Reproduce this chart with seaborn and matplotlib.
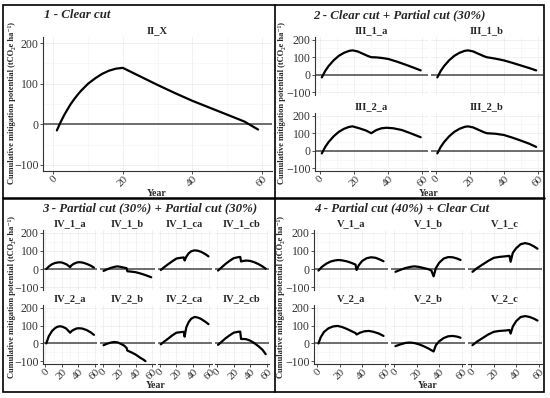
#!/usr/bin/env python3
"""Cumulative mitigation potential per harvest scenario, four framed panels."""
import matplotlib
matplotlib.use("Agg")
import matplotlib.pyplot as plt
from matplotlib.lines import Line2D
from matplotlib.patches import Rectangle
import pandas as pd
import seaborn as sns

# ---- data ------------------------------------------------------------------
ii_x_years = [1, 2, 3, 4, 5, 6, 7, 8, 10, 12, 14, 16, 18, 20, 25, 30, 35, 40, 45, 50, 55, 59]
ii_x_vals = [-15, 4, 21, 36, 50, 62, 73, 83, 100, 113, 124, 132, 137, 139, 118, 97, 77, 58, 41, 24, 7, -13]

rise_years = [1, 3, 5, 8, 11, 14, 17, 19]
rise_vals = [-15, 22, 50, 83, 108, 125, 136, 139]

iii_1_a_years = rise_years + [22, 25, 28, 30, 33, 36, 40, 45, 50, 55, 59]
iii_1_a_vals = rise_vals + [133, 120, 107, 100, 99, 96, 90, 75, 58, 40, 25]
iii_1_b_years = rise_years + [22, 25, 28, 30, 35, 40, 45, 50, 55, 59]
iii_1_b_vals = rise_vals + [133, 120, 107, 100, 92, 82, 68, 53, 38, 25]
iii_2_a_years = rise_years + [23, 27, 30, 33, 36, 39, 43, 48, 53, 59]
iii_2_a_vals = rise_vals + [128, 115, 100, 118, 128, 131, 128, 118, 100, 77]
iii_2_b_years = rise_years + [22, 25, 28, 30, 35, 40, 45, 50, 55, 59]
iii_2_b_vals = rise_vals + [133, 120, 107, 100, 97, 90, 75, 58, 40, 22]

iv_1_a_years = [1, 4, 8, 12, 16, 19, 22, 26, 29, 30, 31, 34, 38, 41, 45, 50, 55, 59]
iv_1_a_vals = [0, 14, 27, 34, 37, 37, 33, 25, 14, 10, 18, 28, 36, 38, 36, 29, 19, 8]
iv_1_b_years = [1, 5, 10, 15, 18, 22, 26, 29, 30, 35, 40, 45, 50, 55, 59]
iv_1_b_vals = [-10, -2, 7, 13, 15, 12, 8, 5, -12, -14, -17, -23, -30, -38, -45]
iv_1_ca_years = [1, 5, 10, 15, 20, 25, 29, 30, 32, 35, 38, 42, 46, 50, 55, 59]
iv_1_ca_vals = [-5, 10, 27, 43, 58, 62, 64, 47, 68, 87, 98, 103, 101, 95, 83, 70]
iv_1_cb_years = [1, 5, 10, 15, 20, 25, 28, 29, 32, 35, 40, 45, 50, 55, 59]
iv_1_cb_vals = [-8, 8, 28, 45, 60, 65, 67, 42, 45, 47, 45, 38, 28, 15, 2]
iv_2_a_years = [1, 4, 8, 12, 15, 18, 21, 25, 28, 30, 32, 35, 38, 41, 45, 50, 55, 59]
iv_2_a_vals = [0, 40, 70, 87, 94, 96, 93, 84, 70, 60, 70, 78, 84, 85, 83, 75, 62, 48]
iv_2_b_years = [1, 5, 10, 14, 18, 22, 26, 29, 30, 35, 40, 45, 50, 52]
iv_2_b_vals = [-10, -2, 5, 8, 6, -2, -12, -25, -40, -50, -62, -78, -92, -99]
iv_2_ca_years = [1, 5, 10, 15, 20, 25, 29, 30, 32, 35, 38, 42, 46, 50, 55, 59]
iv_2_ca_vals = [-5, 10, 27, 45, 60, 63, 65, 38, 90, 120, 138, 148, 145, 137, 122, 108]
iv_2_cb_years = [1, 5, 10, 15, 20, 25, 28, 29, 32, 35, 40, 45, 50, 55, 59]
iv_2_cb_vals = [-8, 8, 28, 45, 60, 65, 66, 25, 25, 24, 16, 2, -15, -35, -60]

v_1_a_years = [1, 4, 8, 12, 16, 19, 22, 26, 30, 34, 35, 37, 40, 44, 48, 52, 56, 59]
v_1_a_vals = [-8, 12, 30, 42, 48, 50, 48, 43, 35, 25, -5, 22, 45, 60, 65, 62, 52, 43]
v_1_b_years = [1, 5, 10, 15, 18, 22, 26, 30, 33, 35, 37, 40, 44, 48, 52, 56, 59]
v_1_b_vals = [-15, -5, 6, 13, 15, 12, 6, 0, -8, -40, 5, 35, 58, 66, 65, 58, 50]
v_1_c_years = [1, 5, 10, 15, 20, 25, 30, 34, 35, 37, 40, 44, 48, 52, 56, 59]
v_1_c_vals = [-15, 5, 25, 45, 62, 67, 70, 73, 40, 90, 115, 137, 143, 137, 124, 112]
v_2_a_years = [1, 3, 6, 10, 14, 18, 22, 26, 30, 34, 35, 38, 42, 46, 50, 55, 59]
v_2_a_vals = [0, 35, 65, 85, 95, 98, 92, 82, 70, 58, 50, 60, 68, 70, 65, 55, 42]
v_2_b_years = [1, 5, 10, 14, 18, 22, 26, 30, 35, 37, 40, 44, 48, 52, 56, 59]
v_2_b_vals = [-15, -6, 3, 5, 2, -5, -15, -27, -45, -10, 12, 30, 40, 42, 38, 32]
v_2_c_years = [1, 5, 10, 15, 20, 25, 30, 34, 35, 37, 40, 44, 48, 52, 56, 59]
v_2_c_vals = [-10, 10, 30, 50, 65, 70, 72, 75, 55, 95, 125, 148, 153, 148, 138, 128]

panel_titles = ["1 - Clear cut", "2 - Clear cut + Partial cut (30%)",
                "3 - Partial cut (30%) + Partial cut (30%)",
                "4 - Partial cut (40%) + Clear Cut"]

panel1 = [("II_X", ii_x_years, ii_x_vals)]
panel2 = [("III_1_a", iii_1_a_years, iii_1_a_vals), ("III_1_b", iii_1_b_years, iii_1_b_vals),
          ("III_2_a", iii_2_a_years, iii_2_a_vals), ("III_2_b", iii_2_b_years, iii_2_b_vals)]
panel3 = [("IV_1_a", iv_1_a_years, iv_1_a_vals), ("IV_1_b", iv_1_b_years, iv_1_b_vals),
          ("IV_1_ca", iv_1_ca_years, iv_1_ca_vals), ("IV_1_cb", iv_1_cb_years, iv_1_cb_vals),
          ("IV_2_a", iv_2_a_years, iv_2_a_vals), ("IV_2_b", iv_2_b_years, iv_2_b_vals),
          ("IV_2_ca", iv_2_ca_years, iv_2_ca_vals), ("IV_2_cb", iv_2_cb_years, iv_2_cb_vals)]
panel4 = [("V_1_a", v_1_a_years, v_1_a_vals), ("V_1_b", v_1_b_years, v_1_b_vals),
          ("V_1_c", v_1_c_years, v_1_c_vals), ("V_2_a", v_2_a_years, v_2_a_vals),
          ("V_2_b", v_2_b_years, v_2_b_vals), ("V_2_c", v_2_c_years, v_2_c_vals)]

x_ticks = [0, 20, 40, 60]
y_ticks = [-100, 0, 100, 200]
y_label = "Cumulative mitigation potential (tCO\u2082e ha\u207b\u00b9)"

# ---- style -------------------------------------------------------------------
sns.set_theme(style="white")
SERIF = ["Liberation Serif", "DejaVu Serif"]
plt.rcParams["font.family"] = SERIF

W, H = 550, 398
fig = plt.figure(figsize=(W / 100, H / 100), dpi=100)


def px_axes(left, top, right, bottom):
    return fig.add_axes([left / W, 1 - bottom / H, (right - left) / W, (bottom - top) / H])


def fig_text(x, y, s, **kw):
    fig.text(x / W, 1 - y / H, s, **kw)


def draw_facet(ax, name, years, vals, show_x, show_y):
    df = pd.DataFrame({"year": years, "value": vals})
    ax.set_xlim(-3, 63)
    ax.set_ylim(-115, 215)
    ax.set_xticks(x_ticks)
    ax.set_xticks([10, 30, 50], minor=True)
    ax.set_yticks(y_ticks)
    ax.set_yticks([-50, 50, 150], minor=True)
    ax.grid(True, which="major", color="#ebebeb", lw=0.5)
    ax.grid(True, which="minor", color="#f4f4f4", lw=0.4)
    ax.axhline(0, color="#555555", lw=1.2, zorder=2)
    sns.lineplot(data=df, x="year", y="value", ax=ax, color="black", lw=1.6,
                 estimator=None, sort=False, zorder=3)
    ax.set_xlabel("")
    ax.set_ylabel("")
    ax.set_title(name, fontsize=7.5, fontweight="bold", pad=2.5, family=SERIF)
    for side in ["top", "right", "left", "bottom"]:
        ax.spines[side].set_visible(False)
    ax.spines["left"].set_visible(show_y)
    ax.spines["bottom"].set_visible(show_x)
    for side in ["left", "bottom"]:
        ax.spines[side].set_color("#333333")
        ax.spines[side].set_linewidth(0.8)
    ax.tick_params(which="minor", length=0)
    ax.tick_params(axis="x", length=2 if show_x else 0, width=0.6, color="#333333",
                   labelbottom=show_x, labelsize=8, labelcolor="#333333", pad=0.5,
                   direction="out", bottom=show_x)
    ax.tick_params(axis="y", length=2 if show_y else 0, width=0.6, color="#333333",
                   labelleft=show_y, labelsize=8.5, labelcolor="#333333", pad=1,
                   direction="out", left=show_y)
    for lab in ax.get_xticklabels():
        lab.set_rotation(45)
        lab.set_ha("center")
        lab.set_va("top")
    for lab in ax.get_xticklabels() + ax.get_yticklabels():
        lab.set_family(SERIF)


def draw_panel(facets, ncol, left, right, rows, gap):
    nrow = len(rows)
    width = (right - left - gap * (ncol - 1)) / ncol
    for i, (name, years, vals) in enumerate(facets):
        r, c = divmod(i, ncol)
        x0 = left + c * (width + gap)
        top, bottom = rows[r]
        ax = px_axes(x0, top, x0 + width, bottom)
        draw_facet(ax, name, years, vals, show_x=(r == nrow - 1), show_y=(c == 0))


draw_panel(panel1, 1, 43, 272, [(37, 171)], 0)
draw_panel(panel2, 2, 315, 543, [(37, 95), (113, 171)], 3)
draw_panel(panel3, 4, 43, 269, [(230, 290), (305, 364)], 3)
draw_panel(panel4, 3, 314, 542, [(230, 290), (305, 364)], 3)

# panel headings
title_kw = dict(fontsize=9.3, fontweight="bold", fontstyle="italic", family=SERIF,
                ha="center", va="center")
fig_text(77, 15, panel_titles[0], **title_kw)
fig_text(399, 15, panel_titles[1], **title_kw)
fig_text(150, 208, panel_titles[2], **title_kw)
fig_text(402, 208, panel_titles[3], **title_kw)

# axis titles per panel
ylab_kw = dict(fontsize=6, fontweight="bold", family=SERIF, rotation=90,
               ha="center", va="center")
fig_text(12, 103, y_label, **ylab_kw)
fig_text(282, 103, y_label, **ylab_kw)
fig_text(12, 297, y_label, **ylab_kw)
fig_text(281, 297, y_label, **ylab_kw)
xlab_kw = dict(fontsize=7, fontweight="bold", family=SERIF, ha="center", va="center")
fig_text(157, 193, "Year", **xlab_kw)
fig_text(429, 193, "Year", **xlab_kw)
fig_text(156, 386, "Year", **xlab_kw)
fig_text(428, 386, "Year", **xlab_kw)

# panel frames
fig.add_artist(Rectangle((3 / W, 1 - 392 / H), 541 / W, 387 / H, transform=fig.transFigure,
                         fill=False, edgecolor="black", lw=1.2))
fig.add_artist(Line2D([275 / W, 275 / W], [1 - 392 / H, 1 - 5 / H], transform=fig.transFigure,
                      color="black", lw=1.2))
fig.add_artist(Line2D([3 / W, 544 / W], [1 - 198 / H, 1 - 198 / H], transform=fig.transFigure,
                      color="black", lw=1.8))

fig.savefig("out.png", dpi=100)
plt.close(fig)
